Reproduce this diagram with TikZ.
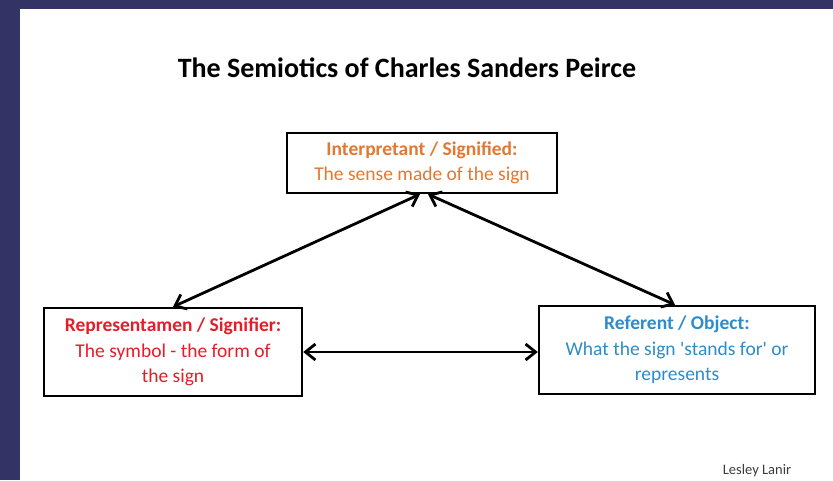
\documentclass[tikz,border=0pt]{standalone}
\usepackage{fontspec}
\setmainfont{Carlito}
\usetikzlibrary{arrows.meta}
\definecolor{frame}{RGB}{51,51,102}
\definecolor{interpcol}{RGB}{228,120,48}
\definecolor{reprcol}{RGB}{226,30,40}
\definecolor{refercol}{RGB}{46,140,200}
\definecolor{creditcol}{RGB}{60,60,60}

\begin{document}
\begin{tikzpicture}[x=1pt, y=-1pt,
    every node/.style={font=\fontsize{19.5}{25.5}\selectfont, align=center},
    sign/.style={draw=black, line width=2.4pt, fill=white, inner sep=0pt},
    link/.style={{Straight Barb[length=10pt,width=16pt]}-{Straight Barb[length=10pt,width=16pt]}, line width=2.8pt}]
  % slide frame
  \fill[white] (0,0) rectangle (833,480);
  \fill[frame] (0,0) rectangle (833,9);
  \fill[frame] (0,0) rectangle (20,480);
  \useasboundingbox (0,0) rectangle (833,480);
  \node[font=\fontsize{28}{32}\selectfont\bfseries] (title) at (407,68) {The Semiotics of Charles Sanders Peirce};
  % the three corners of the sign
  \node[sign, minimum width=270pt, minimum height=60pt, text=interpcol] (interp) at (422,163)
    {\textbf{Interpretant / Signified:}\\The sense made of the sign};
  \node[sign, minimum width=258pt, minimum height=88pt, text=reprcol] (repr) at (173,352)
    {\textbf{Representamen / Signifier:}\\The symbol - the form of\\the sign};
  \node[sign, minimum width=276pt, minimum height=88pt, text=refercol] (refer) at (677,350)
    {\textbf{Referent / Object:}\\What the sign \textquotesingle stands for\textquotesingle\ or\\represents};
  \draw[link] ([xshift=-2pt]interp.south) -- (repr.north);
  \draw[link] ([xshift=6pt]interp.south) -- ([xshift=-2pt]refer.north);
  \draw[link] (repr.east) -- (repr.east -| refer.west);
  \node[font=\fontsize{14.5}{16}\selectfont, text=creditcol] (credit) at (757,471) {Lesley Lanir};
\end{tikzpicture}
\end{document}
